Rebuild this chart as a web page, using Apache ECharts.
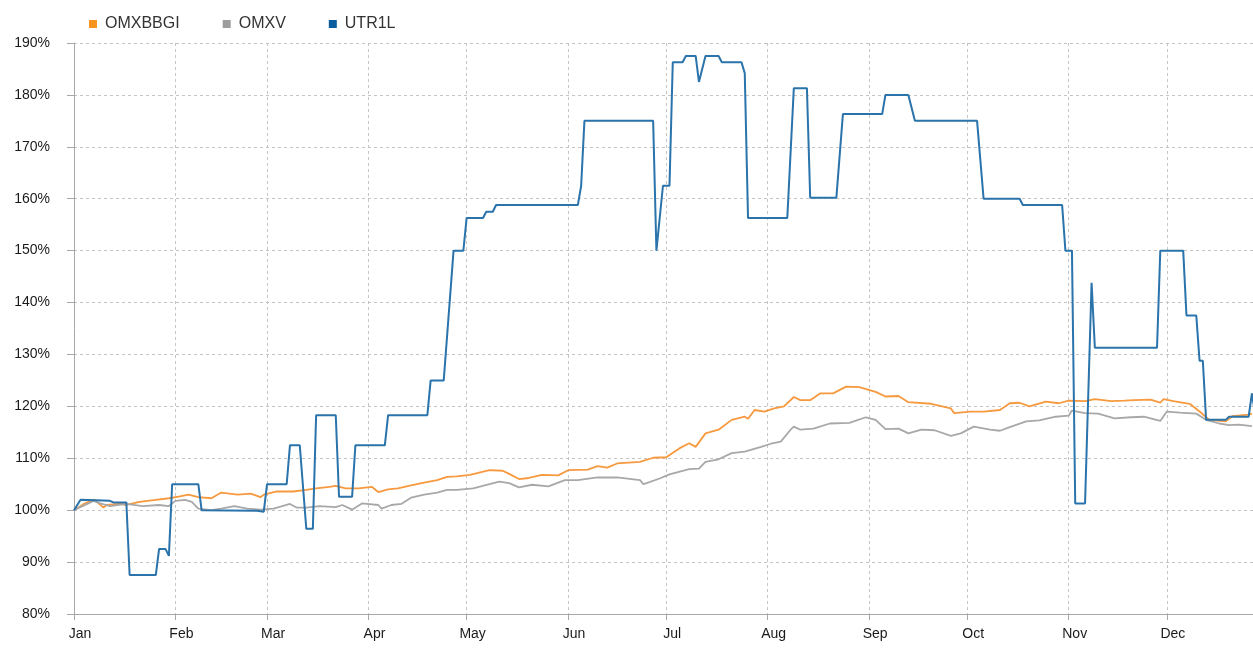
<!DOCTYPE html>
<html>
<head>
<meta charset="utf-8">
<script src="https://cdn.jsdelivr.net/npm/echarts@6/dist/echarts.min.js"></script>
<style>
  html, body { margin: 0; padding: 0; background: #fff; }
  #chart { width: 1253px; height: 648px; }
</style>
</head>
<body>
<div id="chart"></div>
<script>
// tick labels
const months = ["Jan", "Feb", "Mar", "Apr", "May", "Jun", "Jul", "Aug", "Sep", "Oct", "Nov", "Dec"];
const seriesNames = ["OMXBBGI", "OMXV", "UTR1L"];

// OMXBBGI
const omxbbgiDates = [
  "01-01","01-04","01-07","01-08","01-10","01-11","01-15","01-17","01-21","01-26","01-30",
  "02-02","02-05","02-08","02-12","02-15","02-20","02-24","02-27","02-28",
  "03-04","03-09","03-13","03-16","03-20","03-22","03-25","03-29",
  "04-02","04-04","04-07","04-10","04-14","04-18","04-22","04-25","04-28",
  "05-02","05-08","05-12","05-14","05-17","05-20","05-24","05-29",
  "06-01","06-07","06-10","06-13","06-16","06-23","06-27",
  "07-01","07-05","07-08","07-10","07-13","07-17","07-21","07-25","07-26","07-28","07-31",
  "08-03","08-06","08-09","08-11","08-14","08-17","08-21","08-25","08-29",
  "09-03","09-06","09-10","09-13","09-20","09-26","09-27",
  "10-02","10-06","10-11","10-14","10-17","10-20","10-25","10-29",
  "11-01","11-06","11-09","11-14","11-18","11-21","11-26","11-29","11-30",
  "12-03","12-08","12-11","12-14","12-19","12-21","12-26","12-27"
];
const omxbbgiValues = [
  100, 101.2, 102.0, 101.6, 100.5, 101.0, 101.2, 101.0, 101.6, 102.0, 102.3,
  102.6, 103.0, 102.5, 102.3, 103.4, 103.0, 103.2, 102.5, 103.0,
  103.6, 103.6, 103.9, 104.2, 104.5, 104.7, 104.2, 104.2,
  104.5, 103.5, 104.0, 104.2, 104.8, 105.3, 105.8, 106.4, 106.5,
  106.8, 107.7, 107.6, 107.0, 106.0, 106.2, 106.8, 106.7,
  107.7, 107.8, 108.5, 108.2, 109.0, 109.3, 110.1,
  110.2, 111.9, 112.9, 112.2, 114.8, 115.5, 117.4, 118.0, 117.6, 119.3, 119.0,
  119.6, 120.0, 121.8, 121.2, 121.2, 122.5, 122.5, 123.8, 123.7,
  122.8, 121.9, 122.0, 120.8, 120.5, 119.6, 118.7,
  119.0, 119.0, 119.3, 120.6, 120.7, 120.0, 120.9, 120.6,
  121.1, 121.0, 121.4, 121.0, 121.1, 121.2, 121.3, 120.7, 121.4,
  121.0, 120.5, 119.0, 117.4, 117.1, 118.1, 118.4, 118.6
];

// OMXV
const omxvDates = [
  "01-01","01-07","01-09","01-12","01-17","01-22","01-27","01-30",
  "02-01","02-04","02-06","02-08","02-12","02-15","02-19","02-23","02-27",
  "03-03","03-08","03-10","03-13","03-17","03-22","03-24","03-27","03-30",
  "04-04","04-05","04-08","04-11","04-14","04-18","04-22","04-25","04-28",
  "05-03","05-08","05-11","05-14","05-17","05-21","05-26","05-31",
  "06-04","06-10","06-16","06-23","06-24","06-25","06-29",
  "07-02","07-08","07-11","07-13","07-17","07-21","07-25","07-30",
  "08-02","08-05","08-08","08-09","08-11","08-15","08-20","08-26","08-31",
  "09-03","09-06","09-10","09-13","09-17","09-21","09-26","09-29",
  "10-03","10-08","10-11","10-14","10-19","10-23","10-28",
  "11-01","11-02","11-06","11-10","11-15","11-20","11-24","11-29",
  "12-01","12-05","12-10","12-13","12-17","12-20","12-23","12-27"
];
const omxvValues = [
  100, 101.8, 101.3, 100.8, 101.2, 100.8, 101.0, 100.8,
  101.8, 102.0, 101.6, 100.3, 100.0, 100.3, 100.8, 100.3, 100.1,
  100.3, 101.2, 100.5, 100.5, 100.8, 100.6, 101.0, 100.1, 101.3,
  101.0, 100.3, 101.0, 101.2, 102.4, 103.0, 103.4, 103.9, 103.9,
  104.2, 105.0, 105.5, 105.2, 104.4, 104.9, 104.6, 105.8,
  105.8, 106.3, 106.3, 105.8, 105.0, 105.2, 106.1,
  106.9, 107.9, 108.0, 109.3, 109.8, 111.0, 111.3, 112.2,
  112.8, 113.2, 115.5, 116.1, 115.5, 115.7, 116.7, 116.8, 117.9,
  117.4, 115.6, 115.7, 114.8, 115.5, 115.4, 114.3, 114.8,
  116.1, 115.5, 115.3, 116.0, 117.1, 117.3, 118.0,
  118.2, 119.2, 118.7, 118.6, 117.7, 117.9, 118.0, 117.2,
  119.0, 118.8, 118.6, 117.4, 116.7, 116.4, 116.5, 116.2
];

// UTR1L
const utrDates = [
  "01-01","01-03","01-12","01-13","01-17","01-18","01-26","01-27","01-29","01-30","01-31",
  "02-08","02-09","02-26","02-28",
  "03-01","03-07","03-08","03-11","03-13","03-15","03-16","03-22","03-23","03-27","03-28",
  "04-06","04-07","04-19","04-20","04-24","04-27","04-30",
  "05-01","05-06","05-07","05-09","05-10",
  "06-04","06-05","06-06","06-27","06-28","06-30",
  "07-02","07-03","07-06","07-07","07-10","07-11","07-13","07-17","07-18","07-24","07-25","07-26",
  "08-07","08-09","08-13","08-14","08-22","08-24",
  "09-05","09-06","09-13","09-15",
  "10-04","10-06","10-17","10-18","10-30","10-31",
  "11-02","11-03","11-06","11-08","11-09","11-28","11-29",
  "12-06","12-07","12-10","12-11","12-12","12-13","12-19","12-20","12-26","12-27","12-28"
];
const utrValues = [
  100, 102, 101.8, 101.5, 101.5, 87.5, 87.5, 92.5, 92.5, 91.2, 105,
  105, 100, 99.9, 99.7,
  105, 105, 112.5, 112.5, 96.4, 96.4, 118.3, 118.3, 102.6, 102.6, 112.5,
  112.5, 118.3, 118.3, 125, 125, 150, 150,
  156.3, 156.3, 157.5, 157.5, 158.8,
  158.8, 162.5, 175, 175, 150, 162.5,
  162.5, 186.3, 186.3, 187.5, 187.5, 182.5, 187.5, 187.5, 186.3, 186.3, 184.2, 156.3,
  156.3, 181.3, 181.3, 160.2, 160.2, 176.3,
  176.3, 180, 180, 175,
  175, 160, 160, 158.8, 158.8, 150,
  150, 101.3, 101.3, 143.8, 131.3, 131.3, 150,
  150, 137.5, 137.5, 128.8, 128.8, 117.4, 117.4, 118, 118, 122.5, 118.4
];

const year = "2013-";
function pairs(dates, values) {
  return dates.map((d, i) => [year + d, values[i]]);
}

const chart = echarts.init(document.getElementById("chart"));
const fontFamily = "'Liberation Sans', Arial, sans-serif";

chart.setOption({
  animation: false,
  textStyle: { fontFamily },
  legend: {
    left: 84,
    top: 11,
    icon: "rect",
    itemWidth: 8,
    itemHeight: 8,
    itemGap: 43,
    data: seriesNames,
    textStyle: { fontSize: 16, color: "#333", padding: [0, 0, 0, 3], fontFamily }
  },
  grid: { left: 74, right: 0, top: 43, bottom: 34 },
  xAxis: {
    type: "time",
    min: "2013-01-01",
    max: "2013-12-27 08:00",
    minInterval: 28 * 86400000,
    maxInterval: 31 * 86400000,
    axisLine: { lineStyle: { color: "#a8a8a8", width: 1 } },
    axisTick: { show: true, length: 6, lineStyle: { color: "#a8a8a8" } },
    axisLabel: {
      fontSize: 14,
      color: "#1a1a1a",
      margin: 13,
      padding: [0, 0, 0, 12],
      formatter: (val) => months[new Date(val).getMonth()]
    },
    splitLine: { show: true, lineStyle: { color: "#c4c4c4", type: [3, 3] } }
  },
  yAxis: {
    type: "value",
    min: 80,
    max: 190,
    interval: 10,
    axisLine: { show: true, lineStyle: { color: "#a8a8a8", width: 1 } },
    axisTick: { show: true, length: 7, lineStyle: { color: "#a8a8a8" } },
    axisLabel: { fontSize: 14, color: "#1a1a1a", margin: 24, formatter: "{value}%" },
    splitLine: { show: true, lineStyle: { color: "#c4c4c4", type: [3, 3] } }
  },
  series: [
    {
      name: "OMXBBGI",
      type: "line",
      showSymbol: false,
      itemStyle: { color: "#f7941d" },
      lineStyle: { color: "#f7993f", width: 1.8 },
      data: pairs(omxbbgiDates, omxbbgiValues)
    },
    {
      name: "OMXV",
      type: "line",
      showSymbol: false,
      itemStyle: { color: "#9d9d9d" },
      lineStyle: { color: "#a8a8a8", width: 1.8 },
      data: pairs(omxvDates, omxvValues)
    },
    {
      name: "UTR1L",
      type: "line",
      showSymbol: false,
      itemStyle: { color: "#0b5c9c" },
      lineStyle: { color: "#2a73ab", width: 2 },
      data: pairs(utrDates, utrValues)
    }
  ]
});
</script>
</body>
</html>
